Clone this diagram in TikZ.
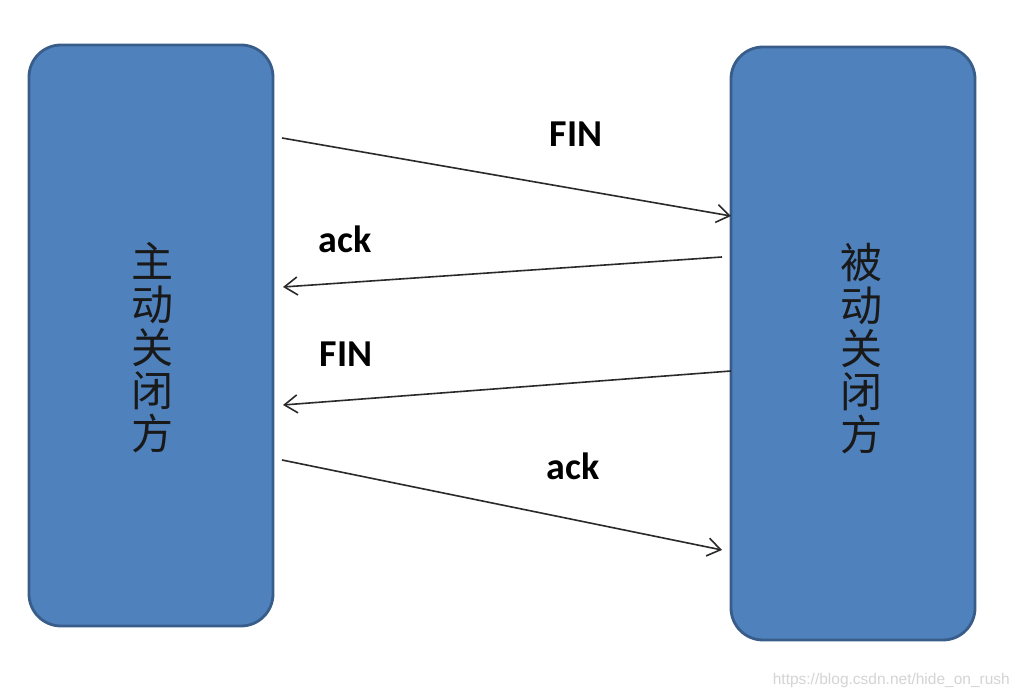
\documentclass[tikz,border=0pt]{standalone}
\usepackage{fontspec}
\setmainfont{Carlito}
\newfontfamily\cjk{Noto Sans CJK SC}
\newfontfamily\wmfont{Liberation Sans}
\usetikzlibrary{arrows.meta}
\definecolor{boxfill}{HTML}{4F81BD}
\definecolor{boxline}{HTML}{385D8A}
\definecolor{wmgray}{HTML}{D4D4D4}
\definecolor{arrowc}{HTML}{2A2A2A}
\tikzset{
  sidebox/.style={draw=boxline, fill=boxfill, line width=2.8pt, rounded corners=32pt, minimum width=244pt, inner sep=0pt},
  sidetext/.style={font=\cjk\fontsize{42}{43}\selectfont, align=center, text=black!90, inner sep=0pt},
  msg/.style={font=\bfseries\fontsize{38}{40}\selectfont, anchor=base, inner sep=0pt},
  msgarrow/.style={draw=arrowc, line width=1.6pt, -{Straight Barb[length=13pt,width=18pt,line width=1.6pt]}},
  wm/.style={font=\wmfont\fontsize{15.5}{17}\selectfont, text=wmgray, anchor=base east, inner sep=0pt}
}
\begin{document}
\begin{tikzpicture}[x=1pt,y=1pt]
\useasboundingbox (0,0) rectangle (1020,696);
\fill[white] (0,0) rectangle (1020,696);
% boxes
\node[sidebox, minimum height=581pt] (A) at (151,360.5) {};
\node[sidebox, minimum height=593pt] (B) at (853,352.5) {};
\node[sidetext] (At) at (152,348) {主\\动\\关\\闭\\方};
\node[sidetext] (Bt) at (861,347) {被\\动\\关\\闭\\方};
% arrow endpoints
\coordinate (a1s) at (282,558);
\coordinate (a1e) at (731,480);
\coordinate (a2s) at (722,439);
\coordinate (a2e) at (283,409);
\coordinate (a3s) at (731,325);
\coordinate (a3e) at (283,291);
\coordinate (a4s) at (282,236);
\coordinate (a4e) at (722,146);
\draw[msgarrow] (a1s) -- (a1e);
\draw[msgarrow] (a2s) -- (a2e);
\draw[msgarrow] (a3s) -- (a3e);
\draw[msgarrow] (a4s) -- (a4e);
% labels
\node[msg] (l1) at (576,549) {FIN};
\node[msg] (l2) at (345,443) {ack};
\node[msg] (l3) at (346,329) {FIN};
\node[msg] (l4) at (573,216) {ack};
% watermark
\node[wm] (w) at (1010,11) {https://blog.csdn.net/hide\_on\_rush};
\end{tikzpicture}
\end{document}
